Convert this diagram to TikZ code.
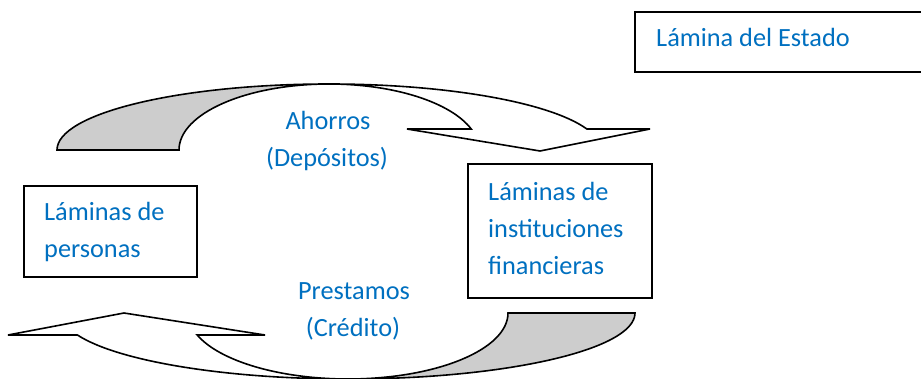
\documentclass[tikz,border=0pt]{standalone}
\usepackage{fontspec}
\setmainfont{Carlito}
\definecolor{txtblue}{HTML}{0070C0}
\definecolor{backgray}{HTML}{CDCDCD}
\tikzset{
  arrowshape/.style={draw=black, line width=1.6pt, line join=miter},
  boxshape/.style={draw=black, line width=2pt, fill=white, inner sep=0pt, anchor=north west},
  lbl/.style={text=txtblue, inner sep=0pt, font=\fontsize{26.3}{36.7}\selectfont},
}
\begin{document}
\begin{tikzpicture}[x=1pt,y=1pt]
\useasboundingbox (0,0) rectangle (921,378);
\clip (0,0) rectangle (921,378);
% top curved arrow (Ahorros)
\filldraw[arrowshape, fill=backgray] (57,228)
  arc[start angle=180, end angle=90, x radius=272pt, y radius=66pt]
  arc[start angle=90, end angle=180, x radius=150pt, y radius=66pt] -- cycle;
\filldraw[arrowshape, fill=white] (329,294)
  arc[start angle=90, end angle=18.55, x radius=272pt, y radius=66pt]
  -- (650,249) -- (540,227) -- (407,249) -- (471.2,249)
  arc[start angle=18.55, end angle=90, x radius=150pt, y radius=66pt] -- cycle;
% bottom curved arrow (Prestamos)
\filldraw[arrowshape, fill=backgray] (635,65)
  arc[start angle=0, end angle=-90, x radius=287pt, y radius=66pt]
  arc[start angle=-90, end angle=0, x radius=160pt, y radius=66pt] -- cycle;
\filldraw[arrowshape, fill=white] (348,-1)
  arc[start angle=270, end angle=199.47, x radius=287pt, y radius=66pt]
  -- (8,43) -- (124,65) -- (265,43) -- (197.2,43)
  arc[start angle=199.47, end angle=270, x radius=160pt, y radius=66pt] -- cycle;
% boxes
\node[boxshape, minimum width=291pt, minimum height=60pt] (estado) at (634,367) {};
\node[boxshape, minimum width=173pt, minimum height=91pt] (personas) at (22.7,193) {};
\node[boxshape, minimum width=184.3pt, minimum height=133.4pt] (instit) at (466.7,214.7) {};
% texts
\node[lbl, anchor=base west] (testado) at (656,331) {Lámina del Estado};
\node[lbl, anchor=base west] (tpers1) at (44,157.3) {Láminas de};
\node[lbl, anchor=base west] (tpers2) at (44,121) {personas};
\node[lbl, anchor=base west] (tinst1) at (488,177.3) {Láminas de};
\node[lbl, anchor=base west] (tinst2) at (488,141) {instituciones};
\node[lbl, anchor=base west] (tinst3) at (488,104) {financieras};
\node[lbl, anchor=base] (tahorros) at (328,248) {Ahorros};
\node[lbl, anchor=base] (tdeposit) at (327,211.3) {(Depósitos)};
\node[lbl, anchor=base] (tprest) at (354,79) {Prestamos};
\node[lbl, anchor=base] (tcredito) at (353,41.3) {(Crédito)};
\end{tikzpicture}
\end{document}
